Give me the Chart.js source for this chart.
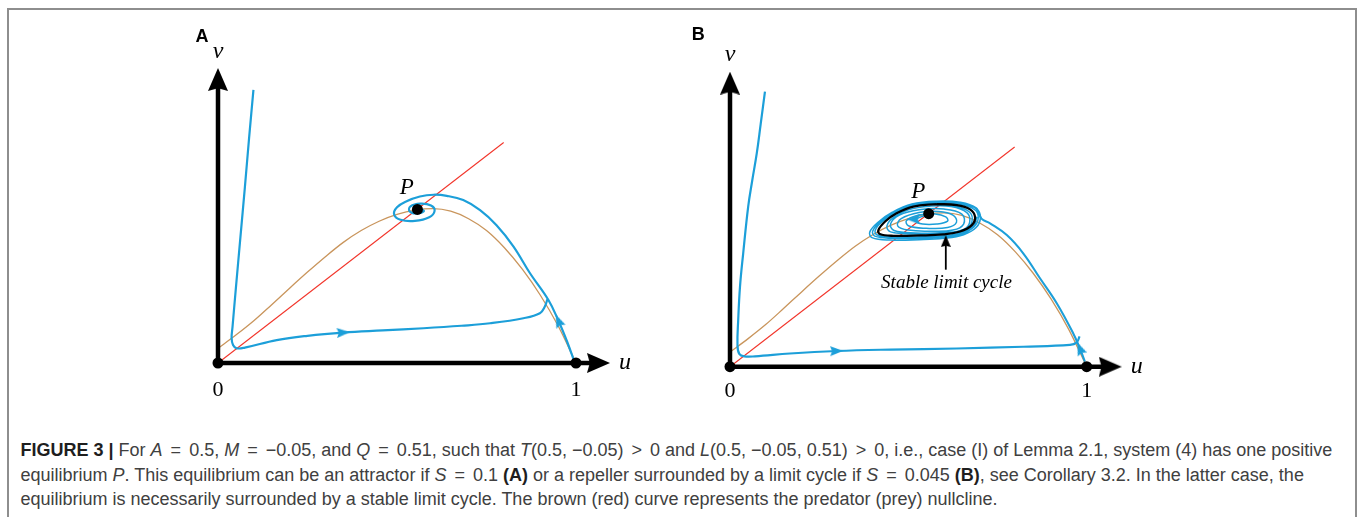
<!DOCTYPE html>
<html>
<head>
<meta charset="utf-8">
<script src="https://cdn.jsdelivr.net/npm/chart.js@4.4.0/dist/chart.umd.min.js"></script>
<style>
  html, body { margin: 0; padding: 0; background: #fff; }
  body { width: 1360px; height: 517px; position: relative; overflow: hidden; }
  #frame { position: absolute; left: 7px; top: 8px; width: 1346px; height: 560px; border: 2px solid #8e8e8e; }
  #fig { position: absolute; left: 0; top: 0; }
  #caption {
    position: absolute; left: 20.5px; top: 438px;
    font-family: "Liberation Sans", Arial, sans-serif; font-size: 18px; line-height: 24.6px;
    color: #404040; white-space: nowrap;
  }
  #caption b { color: #1e1e1e; }
  #caption .op { margin: 0 3px; }
</style>
</head>
<body>
<div id="frame"></div>
<canvas id="fig" width="1360" height="410"></canvas>
<div id="caption"><b>FIGURE 3 |</b> For <i>A</i> <span class="op">=</span> 0.5, <i>M</i> <span class="op">=</span> −0.05, and <i>Q</i> <span class="op">=</span> 0.51, such that <i>T</i>(0.5, −0.05) <span class="op">&gt;</span> 0 and <i>L</i>(0.5, −0.05, 0.51) <span class="op">&gt;</span> 0, i.e., case (I) of Lemma 2.1, system (4) has one positive<br>equilibrium <i>P</i>. This equilibrium can be an attractor if <i>S</i> <span class="op">=</span> 0.1 <b>(A)</b> or a repeller surrounded by a limit cycle if <i>S</i> <span class="op">=</span> 0.045 <b>(B)</b>, see Corollary 3.2. In the latter case, the<br>equilibrium is necessarily surrounded by a stable limit cycle. The brown (red) curve represents the predator (prey) nullcline.</div>
<script>
// ---- data (u = prey, v = predator) ----
// nullclines, same in both panels
const nullU  = [0, 0.05, 0.1, 0.15, 0.2, 0.25, 0.3, 0.35, 0.4, 0.45, 0.5, 0.55, 0.6, 0.65, 0.7, 0.75, 0.8, 0.85, 0.9, 0.95, 1];
const brownV = [0.041, 0.078, 0.118, 0.163, 0.209, 0.254, 0.297, 0.337, 0.37, 0.396, 0.415, 0.427, 0.431, 0.424, 0.403, 0.37, 0.322, 0.262, 0.19, 0.104, 0];
const redU = [0, 0.798];
const redV = [0, 0.616];

// equilibria
const eqU = [0, 1, 0.557];
const eqV = [0, 0, 0.429];

// panel A, S = 0.1 : trajectories
const a1U = [0.099, 0.087, 0.075, 0.0625, 0.05, 0.0405, 0.038, 0.042, 0.052, 0.075, 0.164, 0.25, 0.35, 0.46, 0.574, 0.68, 0.76, 0.853, 0.899, 0.913, 0.92];
const a1V = [0.763, 0.63, 0.49, 0.35, 0.21, 0.1, 0.07, 0.05, 0.041, 0.043, 0.064, 0.076, 0.085, 0.091, 0.097, 0.104, 0.111, 0.125, 0.139, 0.158, 0.178];
const a2U = [0.995, 0.975, 0.951, 0.923, 0.872, 0.825, 0.778, 0.732, 0.685, 0.639, 0.602, 0.564, 0.527, 0.5, 0.492, 0.51, 0.55, 0.59, 0.605, 0.595, 0.565, 0.537, 0.535, 0.553, 0.575, 0.565, 0.558];
const a2V = [0.005, 0.06, 0.118, 0.176, 0.25, 0.326, 0.385, 0.427, 0.455, 0.467, 0.47, 0.465, 0.452, 0.435, 0.415, 0.4, 0.397, 0.407, 0.425, 0.44, 0.445, 0.437, 0.424, 0.418, 0.424, 0.431, 0.43];
const aArrowU = [0.35, 0.951];
const aArrowV = [0.085, 0.118];
const aArrowDir = [-3.5, -112.6];

// panel B, S = 0.045 : trajectories
const b1U = [0.098, 0.086, 0.075, 0.062, 0.051, 0.037, 0.028, 0.023, 0.021, 0.026, 0.04, 0.07, 0.168, 0.299, 0.45, 0.636, 0.822, 0.953, 0.972, 0.98];
const b1V = [0.771, 0.68, 0.598, 0.52, 0.449, 0.318, 0.224, 0.131, 0.06, 0.036, 0.029, 0.029, 0.037, 0.044, 0.048, 0.051, 0.056, 0.061, 0.068, 0.085];
// right branch up to the cycle
const b2U = [0.995, 0.981, 0.962, 0.916, 0.869, 0.822, 0.776, 0.729, 0.705, 0.69];
const b2V = [0.014, 0.051, 0.094, 0.178, 0.248, 0.318, 0.369, 0.402, 0.415, 0.445];
// its loops closing on the cycle from outside
const b2LoopU = [0.705, 0.69, 0.645, 0.58, 0.51, 0.455, 0.415, 0.392, 0.398, 0.45, 0.53, 0.6, 0.655, 0.69, 0.702,
  0.692, 0.645, 0.58, 0.512, 0.46, 0.42, 0.4, 0.406, 0.455, 0.532, 0.6, 0.652, 0.685, 0.696,
  0.686, 0.642, 0.58, 0.514, 0.463, 0.425, 0.407, 0.413, 0.458, 0.533, 0.6, 0.65, 0.683, 0.692];
const b2LoopV = [0.415, 0.445, 0.461, 0.464, 0.456, 0.433, 0.405, 0.378, 0.362, 0.355, 0.356, 0.36, 0.37, 0.39, 0.418,
  0.442, 0.459, 0.461, 0.453, 0.432, 0.405, 0.38, 0.366, 0.36, 0.36, 0.364, 0.373, 0.393, 0.418,
  0.44, 0.456, 0.459, 0.451, 0.43, 0.405, 0.382, 0.369, 0.364, 0.364, 0.367, 0.376, 0.396, 0.42];
// spiral leaving P
const b3U = [0.56, 0.535, 0.52, 0.54, 0.58, 0.61, 0.605, 0.575,
  0.53, 0.495, 0.5, 0.55, 0.61, 0.635, 0.625, 0.585,
  0.53, 0.48, 0.47, 0.5, 0.56, 0.625, 0.655, 0.65, 0.6,
  0.53, 0.475, 0.45, 0.46, 0.52, 0.6, 0.655, 0.672, 0.664, 0.62,
  0.56, 0.5, 0.46, 0.44, 0.45, 0.52, 0.6, 0.658, 0.678, 0.672, 0.63, 0.58];
const b3V = [0.425, 0.42, 0.41, 0.4, 0.4, 0.408, 0.42, 0.428,
  0.425, 0.41, 0.395, 0.388, 0.39, 0.405, 0.425, 0.435,
  0.432, 0.415, 0.395, 0.383, 0.38, 0.383, 0.4, 0.428, 0.442,
  0.44, 0.425, 0.4, 0.382, 0.375, 0.376, 0.385, 0.405, 0.432, 0.449,
  0.45, 0.44, 0.42, 0.395, 0.378, 0.372, 0.374, 0.382, 0.405, 0.433, 0.451, 0.454];
// stable limit cycle
const cycU = [0.58, 0.514, 0.467, 0.435, 0.416, 0.42, 0.458, 0.533, 0.598, 0.645, 0.678, 0.687, 0.673, 0.636, 0.58];
const cycV = [0.456, 0.449, 0.43, 0.407, 0.383, 0.372, 0.367, 0.368, 0.371, 0.379, 0.397, 0.42, 0.441, 0.453, 0.456];
const bArrowU = [0.299, 0.981, 0.514];
const bArrowV = [0.044, 0.051, 0.413];
const bArrowDir = [-1.7, -112.4, 180];

// texts
const panelLabels = ['A', 'B'];
const axisLabels = ['u', 'v'];
const tickValues = [0, 1];
const tickLabels = ['0', '1'];
const eqLabel = 'P';
const cycleLabel = 'Stable limit cycle';

// ---- layout ----
const W = 1360, H = 410;
const panels = {
  A: { ox: 218, oy: 363, unit: 358, xTip: 1.095, yTip: 0.824, tag: [-0.045, 0.911], vLab: 0.869, uLab: 1.137, tickV: -0.075, pLab: [0.527, 0.488] },
  B: { ox: 730, oy: 366.7, unit: 356.7, xTip: 1.098, yTip: 0.827, tag: [-0.089, 0.93], vLab: 0.874, uLab: 1.14, tickV: -0.07, pLab: [0.528, 0.49] }
};
const BLUE = '#1c9fd9', RED = '#f2352b', BROWN = '#c9955c';

function makeArrow(len, wid, color, notch) {
  const c = document.createElement('canvas');
  c.width = len; c.height = wid;
  const g = c.getContext('2d');
  g.fillStyle = color;
  g.beginPath();
  g.moveTo(len, wid / 2);
  g.lineTo(0, 0);
  g.lineTo(len * notch, wid / 2);
  g.lineTo(0, wid);
  g.closePath();
  g.fill();
  return c;
}
const axisHead = makeArrow(23, 20, '#000', 0.12);
const blueHead = makeArrow(13, 10, BLUE, 0.15);
const blackHead = makeArrow(12, 10, '#000', 0.12);

const pts = (us, vs) => us.map((u, i) => ({ x: u, y: vs[i] }));

function curve(p, us, vs, color, width, tension) {
  return { data: pts(us, vs), xAxisID: 'x' + p, yAxisID: 'y' + p, showLine: true, pointRadius: 0,
    borderColor: color, borderWidth: width, tension: tension, fill: false, clip: false };
}
function marks(p, us, vs, style, rot, radius, color) {
  return { data: pts(us, vs), xAxisID: 'x' + p, yAxisID: 'y' + p, showLine: false,
    pointStyle: style, pointRotation: rot, pointRadius: radius, pointBackgroundColor: color,
    pointBorderWidth: 0, clip: false };
}

function panelSets(p) {
  const P = panels[p];
  const brown = curve(p, nullU, brownV, BROWN, 1.3, 0);
  brown.cubicInterpolationMode = 'monotone';
  return [
    curve(p, redU, redV, RED, 1.1, 0),
    brown,
    curve(p, [0, P.xTip - 0.035], [0, 0], '#000', 4.5, 0),
    curve(p, [0, 0], [0, P.yTip - 0.035], '#000', 4.5, 0),
    marks(p, [P.xTip - 0.032, 0], [0, P.yTip - 0.032], axisHead, [0, -90], 3, '#000')
  ];
}

// back-to-front
const sets = [
  ...panelSets('A'),
  curve('A', a1U, a1V, BLUE, 2.2, 0.4),
  curve('A', a2U, a2V, BLUE, 2.2, 0.4),
  marks('A', aArrowU, aArrowV, blueHead, aArrowDir, 3, BLUE),
  marks('A', eqU, eqV, 'circle', 0, 5.5, '#000'),
  ...panelSets('B'),
  curve('B', b1U, b1V, BLUE, 2.2, 0.4),
  curve('B', b2LoopU, b2LoopV, BLUE, 1.5, 0.4),
  curve('B', b2U, b2V, BLUE, 2.1, 0.4),
  curve('B', b3U, b3V, BLUE, 1.5, 0.4),
  curve('B', cycU, cycV, '#000', 2.3, 0.4),
  curve('B', [0.605, 0.605], [0.272, 0.35], '#000', 1.8, 0),
  marks('B', bArrowU, bArrowV, blueHead, bArrowDir, 3, BLUE),
  marks('B', [0.605], [0.352], blackHead, [-90], 3, '#000'),
  marks('B', eqU, eqV, 'circle', 0, 5.5, '#000')
].map((d, i, arr) => Object.assign(d, { order: arr.length - i }));

function scalesFor(p) {
  const P = panels[p];
  const o = {};
  o['x' + p] = { type: 'linear', axis: 'x', display: false, min: -P.ox / P.unit, max: (W - P.ox) / P.unit };
  o['y' + p] = { type: 'linear', axis: 'y', display: false, min: -(H - P.oy) / P.unit, max: P.oy / P.unit };
  return o;
}

const textPlugin = {
  id: 'phaseText',
  afterDatasetsDraw(chart) {
    const ctx = chart.ctx;
    const put = (p, u, v, txt, font) => {
      ctx.font = font;
      ctx.fillText(txt, chart.scales['x' + p].getPixelForValue(u), chart.scales['y' + p].getPixelForValue(v));
    };
    ctx.save();
    ctx.fillStyle = '#000';
    ctx.textAlign = 'center';
    ctx.textBaseline = 'middle';
    ['A', 'B'].forEach((p, k) => {
      const P = panels[p];
      put(p, P.tag[0], P.tag[1], panelLabels[k], 'bold 18px "Liberation Sans"');
      put(p, P.uLab, 0, axisLabels[0], 'italic 24px "Liberation Serif"');
      put(p, 0, P.vLab, axisLabels[1], 'italic 24px "Liberation Serif"');
      tickValues.forEach((t, i) => put(p, t, P.tickV, tickLabels[i], '22px "Liberation Serif"'));
      put(p, P.pLab[0], P.pLab[1], eqLabel, 'italic 23px "Liberation Serif"');
    });
    put('B', 0.607, 0.234, cycleLabel, 'italic 19px "Liberation Serif"');
    ctx.restore();
  }
};

new Chart(document.getElementById('fig'), {
  type: 'scatter',
  data: { datasets: sets },
  options: {
    responsive: false,
    animation: false,
    devicePixelRatio: 1,
    layout: { padding: 0, autoPadding: false },
    events: [],
    plugins: { legend: { display: false }, tooltip: { enabled: false } },
    scales: Object.assign({}, scalesFor('A'), scalesFor('B'))
  },
  plugins: [textPlugin]
});
</script>
</body>
</html>
